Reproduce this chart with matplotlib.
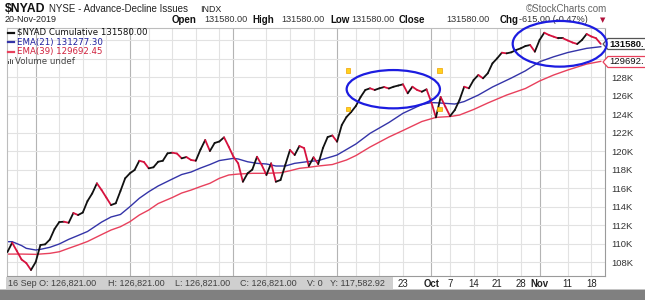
import numpy as np
import pandas as pd
import matplotlib
matplotlib.use("Agg")
import matplotlib.pyplot as plt
from matplotlib.collections import LineCollection
from matplotlib.patches import Ellipse, Rectangle, Polygon

# ---------------- data ----------------
holidays = ["2019-05-27", "2019-07-04", "2019-09-02"]
dates = [d for d in pd.bdate_range("2019-05-23", "2019-11-20") if d.strftime("%Y-%m-%d") not in holidays]

nyad = [109080, 110090, 109190, 108270, 107890, 107140, 108000, 109840, 109910, 110430,
        111570, 112320, 112360, 112240, 113300, 113080, 113350, 114590, 115410, 116510,
        115780, 114970, 114160, 114350, 115680, 117050, 117590, 117950, 118950, 118810,
        118130, 118240, 118840, 118950, 119750, 119820, 119730, 119210, 119350, 119030,
        118950, 120160, 121190, 120000, 120870, 121030, 121480, 120460, 119380, 118670,
        116680, 117590, 117990, 119380, 118490, 117410, 118670, 116680, 116870, 118490,
        120110, 119570, 120540, 120320, 118380, 119320, 118590, 120320, 121510, 121680,
        121010, 122810, 123680, 124220, 124870, 125840, 126600, 126780, 126600, 126780,
        126920, 126760, 126950, 127080, 127210, 126240, 126950, 126600, 126410, 126670,
        125300, 123640, 125840, 124790, 123780, 124430, 125510, 126950, 126780, 127680,
        128220, 127860, 128400, 129480, 130020, 130630, 130560, 130670, 130920, 131100,
        131350, 131460, 130740, 132000, 132790, 132540, 132360, 132180, 132180, 131950,
        131730, 131570, 132000, 132650, 132380, 132195, 131580]

ema21_idx = [0, 1, 3, 4, 6, 7, 9, 11, 13, 15, 17, 20, 22, 24, 26, 28, 30, 32, 35, 37,
             39, 41, 43, 45, 48, 49, 51, 53, 55, 57, 59, 61, 64, 66, 69, 70, 74, 77, 81, 84,
             88, 90, 92, 95, 97, 100, 103, 107, 110, 113, 116, 119, 123, 126]
ema21 = [110200, 110200, 109780, 109480, 109300, 109370, 109590, 109950, 110450, 110870,
         111300, 112320, 112870, 113140, 113980, 114890, 115600, 116220, 116970, 117460,
         117730, 118160, 118540, 118970, 119210, 119140, 118840, 118670, 118600, 118380,
         118380, 118670, 118870, 118970, 119410, 119570, 120760, 121910, 123080, 124080,
         125030, 125240, 125190, 125080, 125350, 126050, 126920, 127890, 128670, 129650,
         130190, 130650, 131100, 131277]

ema39_idx = [0, 3, 6, 9, 11, 13, 15, 17, 20, 22, 24, 26, 28, 30, 32, 35, 37, 39, 41, 43,
             45, 47, 49, 52, 55, 58, 60, 62, 64, 66, 69, 72, 74, 77, 81, 84, 88, 91, 94, 96,
             99, 102, 106, 110, 113, 116, 119, 123, 126]
ema39 = [108860, 108860, 108830, 108940, 109110, 109480, 109840, 110220, 110970, 111460,
         111820, 112360, 113080, 113620, 114320, 114970, 115460, 115780, 116160, 116510,
         117050, 117410, 117510, 117590, 117590, 117650, 117870, 118130, 118240, 118380,
         118540, 119030, 119510, 120430, 121510, 122220, 123190, 123640, 123730, 123890,
         124490, 125190, 126050, 126760, 127570, 128220, 128760, 129400, 129692]

y_ticks = [108000, 110000, 112000, 114000, 116000, 118000, 120000, 122000, 124000,
           126000, 128000, 130000, 132000]
y_hidden = [130000, 132000]   # labels covered by the price tags
x_label_dates = ["2019-09-23", "2019-10-01", "2019-10-07", "2019-10-14", "2019-10-21",
                 "2019-10-28", "2019-11-01", "2019-11-11", "2019-11-18"]
x_labels = ["23", "Oct", "7", "14", "21", "28", "Nov", "11", "18"]

# ---------------- figure ----------------
W, H = 645, 300
fig = plt.figure(figsize=(W / 100, H / 100), dpi=100)
fig.patch.set_facecolor("white")
plt.rcParams["font.family"] = ["Liberation Sans", "DejaVu Sans"]

def fx(x):
    return x / W

def fy(y):
    return 1 - y / H

L, R, T, B = 6.5, 605, 28, 276
ax = fig.add_axes([fx(L), fy(B), fx(R) - fx(L), fy(T) - fy(B)])
n = len(nyad)
xs = np.arange(n)
ax.set_xlim(-0.2, n - 0.1)
ax.set_ylim(106490, 133300)

# grid
date_str = [d.strftime("%Y-%m-%d") for d in dates]
month_starts = [i for i in range(1, n) if dates[i].month != dates[i - 1].month]
week_starts = [i for i in range(1, n) if dates[i].weekday() < dates[i - 1].weekday()]
for i in week_starts:
    if all(abs(i - m) > 2 for m in month_starts):
        ax.axvline(i, color="#e2e2e2", lw=0.8, zorder=0)
for m in month_starts:
    ax.axvline(m, color="#b4b4b4", lw=0.8, zorder=0)
for yv in y_ticks:
    ax.axhline(yv, color="#e2e2e2", lw=0.8, zorder=0)

# EMAs
ax.plot(ema39_idx, ema39, color="#e8405c", lw=1.0, zorder=2)
ax.plot(ema21_idx, ema21, color="#3434a8", lw=1.0, zorder=2)

# price line coloured by direction
pts = np.column_stack([xs, nyad])
segs = np.stack([pts[:-1], pts[1:]], axis=1)
cols = ["#111111" if nyad[k + 1] >= nyad[k] else "#d6123e" for k in range(n - 1)]
lc = LineCollection(segs, colors=cols, linewidths=1.3, zorder=3, capstyle="round", joinstyle="round")
ax.add_collection(lc)

# axes styling
ax.yaxis.tick_right()
ax.set_yticks(y_ticks)
ax.set_yticklabels(["" if v in y_hidden else f"{v // 1000}K" for v in y_ticks], fontsize=6.8, color="#333333")
ax.tick_params(axis="y", length=0, pad=4.5)
xt = [date_str.index(d) for d in x_label_dates]
ax.set_xticks(xt)
ax.set_xticklabels(x_labels, fontsize=6.9, color="#222222")
for lab in ax.get_xticklabels():
    if lab.get_text() in ("Oct", "Nov"):
        lab.set_fontweight("bold")
ax.tick_params(axis="x", length=0, pad=2.5)
for s in ("left", "top"):
    ax.spines[s].set_color("#bdbdbd")
    ax.spines[s].set_linewidth(0.8)
for s in ("right", "bottom"):
    ax.spines[s].set_color("#9a9a9a")
    ax.spines[s].set_linewidth(0.8)
    ax.spines[s].set_linestyle((0, (1, 1)))

# ---------------- header ----------------
fig.text(fx(5), fy(9), "$NYAD", fontsize=8.8, fontweight="bold", color="#111111", va="center")
fig.text(fx(49), fy(9.5), "NYSE - Advance-Decline Issues", fontsize=7, color="#222222", va="center")
fig.text(fx(200), fy(9.5), "INDX", fontsize=6.4, color="#222222", va="center")
fig.text(fx(607), fy(9.5), "\u00a9StockCharts.com", fontsize=7, color="#666666", va="center", ha="right")
fig.text(fx(5), fy(20), "20-Nov-2019", fontsize=6.5, color="#222222", va="center")
row2 = [(172, "Open", True), (204, "131580.00", False), (252, "High", True), (281, "131580.00", False),
        (330, "Low", True), (351, "131580.00", False), (399, "Close", True), (446, "131580.00", False),
        (500, "Chg", True), (519, "-615.00 (-0.47%)", False)]
for x, t, b in row2:
    fig.text(fx(x), fy(20), t, fontsize=7 if b else 6.6, fontweight="bold" if b else "normal",
             color="#111111" if b else "#333333", va="center")
fig.text(fx(600), fy(20), "\u25bc", fontsize=5, color="#b0103a", va="center", family="DejaVu Sans")

# ---------------- legend ----------------
leg = [(32.5, "$NYAD Cumulative 131580.00", "#111111", "#111111"),
       (42, "EMA(21) 131277.30", "#3434a8", "#2020a0"),
       (51.5, "EMA(39) 129692.45", "#e8405c", "#d0203c")]
for y, t, lc_, tc in leg:
    fig.add_artist(plt.Line2D([fx(8), fx(14)], [fy(y), fy(y)], color=lc_, lw=1.6))
    fig.text(fx(17), fy(y), t, fontsize=6.2, color=tc, va="center", family="DejaVu Sans")
for k, hh in enumerate([3, 5, 4]):
    fig.add_artist(Rectangle((fx(8 + 2 * k), fy(64)), 1.3 / W, hh / H, color="#555555", lw=0))
fig.text(fx(15), fy(61), "Volume undef", fontsize=6.2, color="#444444", va="center", family="DejaVu Sans")

# ---------------- price tags ----------------
def tag(yc, text, edge, bold):
    poly = Polygon([(fx(603), fy(yc)), (fx(608), fy(yc - 5.5)), (fx(650), fy(yc - 5.5)),
                    (fx(650), fy(yc + 5.5)), (fx(608), fy(yc + 5.5))], closed=True,
                   facecolor="white", edgecolor=edge, lw=0.9, zorder=10)
    fig.add_artist(poly)
    fig.text(fx(609), fy(yc), text, fontsize=6.8, fontweight="bold" if bold else "normal",
             color="#111111", va="center", zorder=11)

tag(44, "131580.", "#555555", True)
tag(62, "129692.", "#e8405c", False)

# ---------------- annotations ----------------
for cx, cy, w, h in [(393.3, 89.2, 93.3, 38.3), (559.7, 43.8, 94, 45.7)]:
    fig.add_artist(Ellipse((fx(cx), fy(cy)), w / W, h / H, fill=False, edgecolor="#1c1ce0", lw=1.6, zorder=12))
for sx, sy in [(347.7, 70.7), (439.3, 70.7), (347.7, 109), (439.3, 109)]:
    fig.add_artist(Rectangle((fx(sx - 2.2), fy(sy + 2.2)), 4.4 / W, 4.4 / H, facecolor="#ffd21c",
                             edgecolor="#f0a000", lw=0.5, zorder=12))

# ---------------- bottom band ----------------
fig.add_artist(Rectangle((fx(5.5), fy(288.5)), fx(393) - fx(5.5), 11.5 / H, facecolor="#cfcfcf", lw=0, zorder=9))
info = [(8, "16 Sep O: 126,821.00"), (108, "H: 126,821.00"), (175, "L: 126,821.00"),
        (240, "C: 126,821.00"), (307, "V: 0"), (330, "Y: 117,582.92")]
for x, t in info:
    fig.text(fx(x), fy(283), t, fontsize=6.5, color="#404040", va="center", zorder=10)
fig.add_artist(Rectangle((0, 0), 1, 10 / H, facecolor="#808080", lw=0, zorder=9))
fig.add_artist(Rectangle((0, 10 / H), 1, 1.5 / H, facecolor="#c4c4c4", lw=0, zorder=9))

fig.savefig("out.png", dpi=100, facecolor="white")
